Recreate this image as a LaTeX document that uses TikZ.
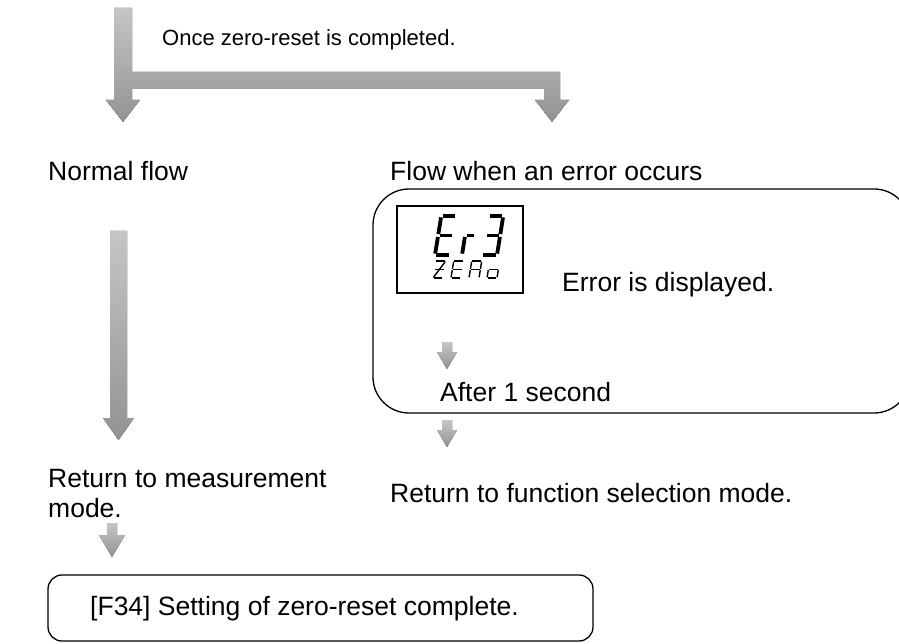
\documentclass[tikz,border=0pt]{standalone}
\usepackage{fontspec}
\setmainfont{Liberation Sans}
\begin{document}
\begin{tikzpicture}[x=1pt,y=-1pt,
  txt/.style={inner sep=0pt, anchor=base west, font=\fontsize{26.5}{30}\selectfont},
  smalltxt/.style={inner sep=0pt, anchor=base west, font=\fontsize{22}{26}\selectfont},
  frame/.style={draw=black, line width=1.3pt},
  blockshade/.style={top color=gray!45, bottom color=gray!100!black!85, draw=none},
  segbig/.style={line width=3.8pt, line cap=butt, shorten <=1.4pt, shorten >=1.4pt},
  segsmall/.style={line width=1.4pt, line cap=butt, shorten <=0.7pt, shorten >=0.7pt}]
\useasboundingbox (0,0) rectangle (899,644);

% seven-segment helper
\newcommand{\segchar}[6]{%
  \begin{scope}[shift={(#1,#2)}, xslant=0.16]
    \coordinate (TL) at (0,-#4); \coordinate (TR) at (#3,-#4);
    \coordinate (ML) at (0,-#4/2); \coordinate (MR) at (#3,-#4/2);
    \coordinate (BL) at (0,0); \coordinate (BR) at (#3,0);
  \end{scope}
  \foreach \p/\q in {#6} \draw[#5] (\p) -- (\q);
}

% top T-shaped split arrow
\fill[blockshade]
  (114,8) -- (114,100) -- (106,100) -- (123,122) -- (140,100) -- (132,100)
  -- (132,89) -- (544,89) -- (544,100) -- (535,100) -- (552,122) -- (569,100)
  -- (560,100) -- (560,72) -- (132,72) -- (132,8) -- cycle;

\node[smalltxt] (once) at (162,46) {Once zero-reset is completed.};

\node[txt] (normal) at (48,181) {Normal flow};
\node[txt] (errflow) at (390,181) {Flow when an error occurs};

% error frame
\draw[frame, rounded corners=36pt] (373,189) rectangle (910,413);

% display
\draw[line width=1.3pt] (397,206) rectangle (523,293);
\segchar{435}{255}{15}{39}{segbig}{TL/TR,TL/ML,ML/BL,BL/BR,ML/MR}
\segchar{462}{255}{10}{39}{segbig}{ML/BL,ML/MR}
\segchar{482}{255}{15}{39}{segbig}{TL/TR,TR/MR,MR/BR,BL/BR,ML/MR}
\segchar{433}{278}{10}{17}{segsmall}{TL/TR,TR/BL,ML/MR,BL/BR}
\segchar{451}{278}{10}{17}{segsmall}{TL/TR,TL/ML,ML/MR,ML/BL,BL/BR}
\segchar{469}{278}{10}{17}{segsmall}{TL/TR,TL/ML,TR/MR,ML/MR,ML/BL,MR/BR}
\segchar{487}{278}{10}{17}{segsmall}{ML/MR,ML/BL,MR/BR,BL/BR}

\node[txt] (shown) at (562,291) {Error is displayed.};

% small arrow inside frame
\fill[blockshade] (442,342) -- (442,352) -- (437,352) -- (447,369) -- (457,352) -- (452,352) -- (452,342) -- cycle;
\node[txt] (after) at (440,401) {After 1 second};

% arrow below frame
\fill[blockshade] (442,420) -- (442,430) -- (437,430) -- (447,447) -- (457,430) -- (452,430) -- (452,420) -- cycle;
\node[txt] (retfunc) at (390,502) {Return to function selection mode.};

% long left arrow
\fill[blockshade] (110,231) -- (110,418) -- (103,418) -- (118.5,440) -- (134,418) -- (127,418) -- (127,231) -- cycle;

\node[txt] (retmeas) at (48,487) {Return to measurement};
\node[txt] (retmeas2) at (48,517) {mode.};

% small arrow left
\fill[blockshade] (107,523) -- (107,535) -- (99,535) -- (112,557) -- (125,535) -- (117,535) -- (117,523) -- cycle;

% bottom frame
\draw[frame, rounded corners=14pt] (48,575) rectangle (593,641);
\node[txt] (done) at (90,615) {[F34] Setting of zero-reset complete.};
\end{tikzpicture}
\end{document}
